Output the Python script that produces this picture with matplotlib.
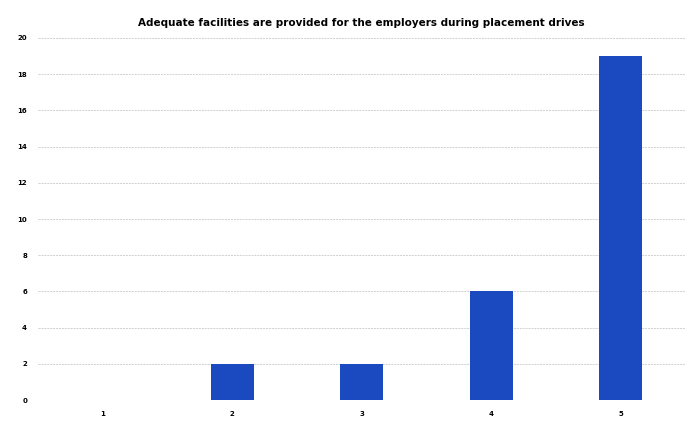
import matplotlib.pyplot as plt

# chart data
categories = [1, 2, 3, 4, 5]
counts = [0, 2, 2, 6, 19]
y_ticks = [0, 2, 4, 6, 8, 10, 12, 14, 16, 18, 20]

fig = plt.figure(figsize=(6.95, 4.22), dpi=100)
ax = fig.add_axes([0.055, 0.052, 0.931, 0.858])

ax.bar(categories, counts, width=0.33, color='#1a49c0', zorder=3)

ax.set_xlim(0.5, 5.5)
ax.set_ylim(0, 20)
ax.set_xticks(categories)
ax.set_xticklabels([str(c) for c in categories], fontsize=5, fontweight='bold')
ax.set_yticks(y_ticks)
ax.set_yticklabels([str(v) for v in y_ticks], fontsize=5, fontweight='bold')
ax.tick_params(length=0, pad=8)

ax.grid(axis='y', color='#d0d0d0', linestyle=(0, (2, 1)), linewidth=0.7, zorder=0)
for s in ax.spines.values():
    s.set_visible(False)

fig.text(0.52, 0.945, 'Adequate facilities are provided for the employers during placement drives',
         ha='center', va='center', fontsize=7.5, fontweight='bold')

fig.savefig('out.png', dpi=100)
